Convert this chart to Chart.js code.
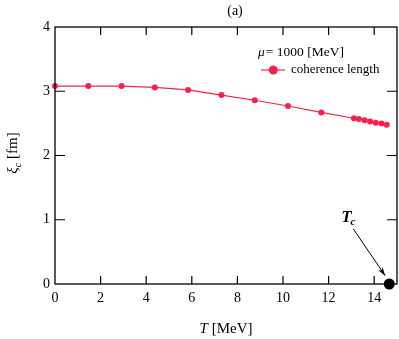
<!DOCTYPE html>
<html>
<head>
<meta charset="utf-8">
<script src="https://cdn.jsdelivr.net/npm/chart.js@4.4.1/dist/chart.umd.min.js"></script>
<style>
  html, body { margin: 0; padding: 0; background: #fff; }
  #c { display: block; }
</style>
</head>
<body>
<canvas id="c" width="399" height="339"></canvas>
<script>
// data
const temps = [0, 1.46, 2.92, 4.38, 5.84, 7.30, 8.76, 10.22, 11.68, 13.11, 13.33, 13.58, 13.82, 14.07, 14.32, 14.55];
const xiValues = [3.08, 3.08, 3.08, 3.06, 3.02, 2.94, 2.86, 2.77, 2.67, 2.58, 2.57, 2.55, 2.53, 2.51, 2.50, 2.48];
const tcPoint = [14.66, 0];
const xTicks = [0, 2, 4, 6, 8, 10, 12, 14];
const yTicks = [0, 1, 2, 3, 4];
// annotation: label and arrow (data coords)
const tcLabel = [12.55, 0.97];
const arrowFrom = [13.08, 0.86];
const arrowTo = [14.48, 0.13];

const RED = "#f8204a";
const SERIF = "'Liberation Serif', 'DejaVu Serif', serif";

const framePlugin = {
  id: "frame",
  afterDraw(chart) {
    const { ctx, chartArea: a, scales: { x, y } } = chart;
    ctx.save();
    ctx.strokeStyle = "#000";
    ctx.lineWidth = 1.3;
    ctx.strokeRect(a.left, a.top, a.right - a.left, a.bottom - a.top);

    // inward ticks on all sides
    const len = 8;
    ctx.lineWidth = 1.2;
    ctx.beginPath();
    xTicks.forEach(v => {
      if (v === 0) return;
      const px = x.getPixelForValue(v);
      ctx.moveTo(px, a.bottom); ctx.lineTo(px, a.bottom - len);
      ctx.moveTo(px, a.top); ctx.lineTo(px, a.top + len);
    });
    yTicks.forEach(v => {
      if (v === 0 || v === 4) return;
      const py = y.getPixelForValue(v);
      ctx.moveTo(a.left, py); ctx.lineTo(a.left + len + 2, py);
      ctx.moveTo(a.right, py); ctx.lineTo(a.right - len - 2, py);
    });
    ctx.stroke();

    // arrow to Tc
    const x0 = x.getPixelForValue(arrowFrom[0]), y0 = y.getPixelForValue(arrowFrom[1]);
    const x1 = x.getPixelForValue(arrowTo[0]), y1 = y.getPixelForValue(arrowTo[1]);
    ctx.lineWidth = 1;
    ctx.beginPath();
    ctx.moveTo(x0, y0); ctx.lineTo(x1, y1);
    ctx.stroke();
    const ang = Math.atan2(y1 - y0, x1 - x0);
    ctx.fillStyle = "#000";
    ctx.beginPath();
    ctx.moveTo(x1, y1);
    ctx.lineTo(x1 - 9 * Math.cos(ang - 0.3), y1 - 9 * Math.sin(ang - 0.3));
    ctx.lineTo(x1 - 6 * Math.cos(ang), y1 - 6 * Math.sin(ang));
    ctx.lineTo(x1 - 9 * Math.cos(ang + 0.3), y1 - 9 * Math.sin(ang + 0.3));
    ctx.closePath();
    ctx.fill();

    // Tc label
    ctx.textBaseline = "alphabetic";
    ctx.textAlign = "left";
    const lx = x.getPixelForValue(tcLabel[0]), ly = y.getPixelForValue(tcLabel[1]);
    ctx.font = "italic bold 17px " + SERIF;
    ctx.fillText("T", lx, ly);
    const tw = ctx.measureText("T").width;
    ctx.font = "italic bold 11px " + SERIF;
    ctx.fillText("c", lx + tw - 1, ly + 3);

    // title (a)
    ctx.font = "14px " + SERIF;
    ctx.textAlign = "center";
    ctx.fillText("(a)", 235, 15);

    // x axis title
    ctx.textAlign = "left";
    ctx.font = "italic 15px " + SERIF;
    const t1 = "T";
    const w1 = ctx.measureText(t1 + " ").width;
    ctx.font = "15px " + SERIF;
    const w2 = ctx.measureText("[MeV]").width;
    let sx = 226 - (w1 + w2) / 2;
    ctx.font = "italic 15px " + SERIF;
    ctx.fillText(t1, sx, 333);
    ctx.font = "15px " + SERIF;
    ctx.fillText("[MeV]", sx + w1, 333);

    // y axis title (rotated)
    ctx.save();
    ctx.translate(17, 153);
    ctx.rotate(-Math.PI / 2);
    ctx.font = "italic 15px " + SERIF;
    const xw = ctx.measureText("\u03BE").width;
    ctx.font = "italic 10px " + SERIF;
    const cw = ctx.measureText("c").width;
    ctx.font = "15px " + SERIF;
    const fw = ctx.measureText(" [fm]").width;
    let s = -(xw + cw + fw) / 2;
    ctx.font = "italic 15px " + SERIF;
    ctx.fillText("\u03BE", s, 0);
    ctx.font = "italic 10px " + SERIF;
    ctx.fillText("c", s + xw, 4);
    ctx.font = "15px " + SERIF;
    ctx.fillText(" [fm]", s + xw + cw, 0);
    ctx.restore();

    // legend
    ctx.font = "italic 13.5px " + SERIF;
    ctx.fillText("\u03BC", 258, 55.5);
    const mw = ctx.measureText("\u03BC").width;
    ctx.font = "13.5px " + SERIF;
    ctx.fillText("= 1000 [MeV]", 258 + mw + 1, 55.5);
    ctx.strokeStyle = RED;
    ctx.lineWidth = 1.2;
    ctx.beginPath();
    ctx.moveTo(261, 70); ctx.lineTo(285, 70);
    ctx.stroke();
    ctx.fillStyle = RED;
    ctx.beginPath();
    ctx.arc(273.3, 70, 4.5, 0, Math.PI * 2);
    ctx.fill();
    ctx.fillStyle = "#000";
    ctx.font = "13px " + SERIF;
    ctx.fillText("coherence length", 291, 72.5);
    ctx.restore();
  }
};

new Chart(document.getElementById("c"), {
  type: "scatter",
  data: {
    datasets: [
      {
        label: "coherence length",
        data: temps.map((t, i) => ({ x: t, y: xiValues[i] })),
        showLine: true,
        borderColor: RED,
        borderWidth: 1.2,
        backgroundColor: RED,
        pointRadius: 3,
        pointBorderWidth: 0,
        clip: false
      },
      {
        label: "Tc",
        data: [{ x: tcPoint[0], y: tcPoint[1] }],
        backgroundColor: "#000",
        pointRadius: 5.5,
        pointBorderWidth: 0,
        clip: false
      }
    ]
  },
  options: {
    responsive: false,
    animation: false,
    events: [],
    layout: { autoPadding: false, padding: { top: 27, right: 2, left: 0, bottom: 0 } },
    plugins: { legend: { display: false }, tooltip: { enabled: false }, title: { display: false } },
    scales: {
      x: {
        type: "linear",
        min: 0,
        max: 15,
        afterBuildTicks: s => { s.ticks = xTicks.map(v => ({ value: v })); },
        afterFit: s => { s.height = 55; s.paddingLeft = 0; s.paddingRight = 0; },
        grid: { display: false, drawTicks: false },
        border: { display: false },
        ticks: { color: "#000", font: { family: SERIF, size: 14 }, padding: 6, maxRotation: 0 }
      },
      y: {
        type: "linear",
        min: 0,
        max: 4,
        afterBuildTicks: s => { s.ticks = yTicks.map(v => ({ value: v })); },
        afterFit: s => { s.width = 55; s.paddingTop = 0; s.paddingBottom = 0; },
        grid: { display: false, drawTicks: false },
        border: { display: false },
        ticks: { color: "#000", font: { family: SERIF, size: 14 }, padding: 5 }
      }
    }
  },
  plugins: [framePlugin]
});
</script>
</body>
</html>
